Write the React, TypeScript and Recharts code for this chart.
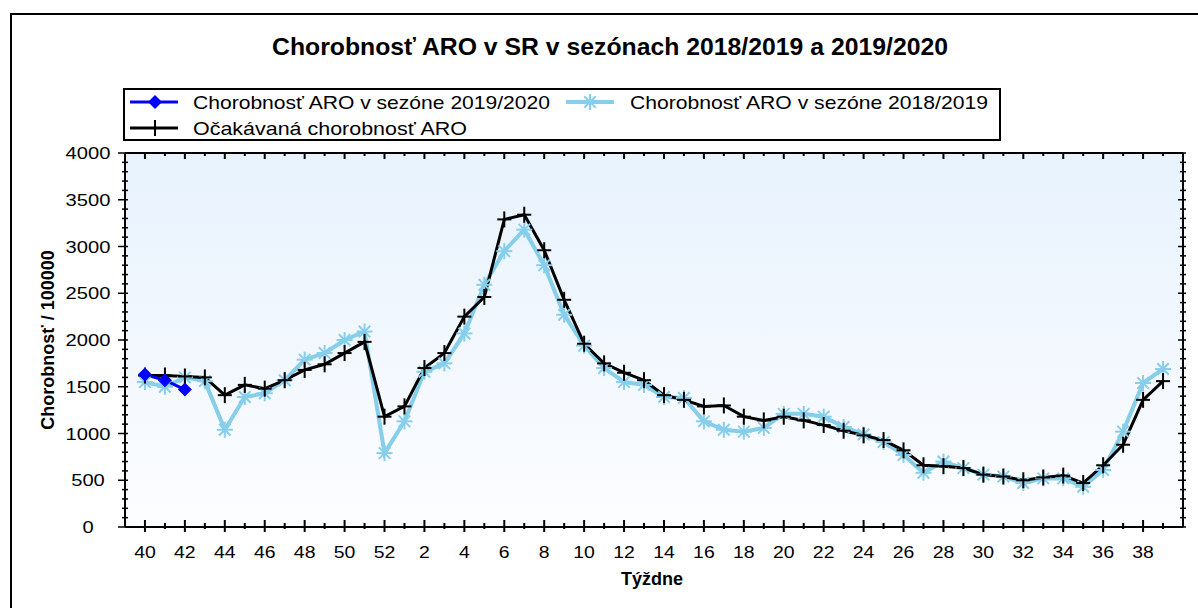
import React from 'react';
import { LineChart, Line, XAxis, YAxis, CartesianGrid } from 'recharts';

// weeks of the season, 40..52 then 1..39
const weeks = [
  40, 41, 42, 43, 44, 45, 46, 47, 48, 49, 50, 51, 52,
  1, 2, 3, 4, 5, 6, 7, 8, 9, 10, 11, 12, 13, 14, 15, 16, 17, 18, 19, 20,
  21, 22, 23, 24, 25, 26, 27, 28, 29, 30, 31, 32, 33, 34, 35, 36, 37, 38, 39,
];

const season1920 = [1630, 1570, 1470];

const season1819 = [
  1550, 1500, 1600, 1560, 1040, 1390, 1430, 1570, 1790, 1860, 2000, 2090, 790,
  1130, 1660, 1750, 2070, 2590, 2950, 3180, 2800, 2270, 1940, 1700, 1550, 1520, 1390,
  1380, 1130, 1040, 1020, 1060, 1210, 1210, 1180, 1070, 990, 910, 770, 580, 700,
  630, 560, 540, 470, 520, 520, 430, 610, 1020, 1540, 1690,
];

const expected = [
  1620, 1620, 1610, 1600, 1410, 1520, 1480, 1570, 1680, 1740, 1860, 1980, 1180,
  1290, 1700, 1860, 2250, 2460, 3290, 3340, 2960, 2430, 1960, 1750, 1650, 1570, 1410,
  1360, 1290, 1300, 1180, 1140, 1180, 1140, 1090, 1030, 980, 930, 820, 660, 650,
  630, 560, 540, 500, 530, 550, 470, 660, 880, 1360, 1560,
];

const yLabels = [0, 500, 1000, 1500, 2000, 2500, 3000, 3500, 4000];

const rows = weeks.map((w, i) => ({
  idx: i,
  week: w,
  s1819: season1819[i],
  exp: expected[i],
  s1920: i < season1920.length ? season1920[i] : null,
}));

const xTicks = weeks.map((_, i) => i);
const yTicks: number[] = [];
for (let v = 0; v <= 4000; v += 100) yTicks.push(v);

const FONT = '"Liberation Sans", Arial, sans-serif';
const SKY = '#87ceeb';

const Star = ({ cx, cy, r = 8, color = SKY }: any) => {
  const d = r * 0.72;
  return (
    <g stroke={color} strokeWidth={2}>
      <line x1={cx - r} y1={cy} x2={cx + r} y2={cy} />
      <line x1={cx} y1={cy - r} x2={cx} y2={cy + r} />
      <line x1={cx - d} y1={cy - d} x2={cx + d} y2={cy + d} />
      <line x1={cx - d} y1={cy + d} x2={cx + d} y2={cy - d} />
    </g>
  );
};

const Plus = ({ cx, cy }: any) => (
  <g stroke="#000" strokeWidth={2}>
    <line x1={cx - 7} y1={cy} x2={cx + 7} y2={cy} />
    <line x1={cx} y1={cy - 8} x2={cx} y2={cy + 8} />
  </g>
);

const Diamond = ({ cx, cy }: any) => (
  <path d={`M${cx},${cy - 7}L${cx + 7},${cy}L${cx},${cy + 7}L${cx - 7},${cy}Z`} fill="#0000ff" />
);

const dotWith = (Shape: any) => (p: any) => {
  if (p.cx == null || p.cy == null || p.value == null) return <g key={p.key ?? p.index} />;
  return <g key={p.key ?? p.index}><Shape cx={p.cx} cy={p.cy} /></g>;
};

const BottomTick = ({ x, y, payload }: any) => {
  const i = payload.value;
  const major = i % 2 === 0;
  const label = String(weeks[i]);
  return (
    <g>
      <line x1={x} x2={x} y1={y - (major ? 7 : 4)} y2={y + (major ? 5 : 2)} stroke="#000" strokeWidth={2} />
      {major && (
        <text x={x} y={y + 31} textAnchor="middle" fontSize={17} fontFamily={FONT} fill="#000"
          textLength={label.length * 10.8} lengthAdjust="spacingAndGlyphs">
          {label}
        </text>
      )}
    </g>
  );
};

const TopTick = ({ x, y, payload }: any) => {
  const major = payload.value % 2 === 0;
  return <line x1={x} x2={x} y1={y} y2={y + (major ? 6 : 3)} stroke="#000" strokeWidth={2} />;
};

const LeftTick = ({ x, y, payload }: any) => {
  const v = payload.value;
  const major = v % 500 === 0;
  const label = String(v);
  return (
    <g>
      <line x1={x - (major ? 7 : 3)} x2={x + 3} y1={y} y2={y} stroke="#000" strokeWidth={1.5} />
      {yLabels.includes(v) && (
        <text x={88} y={y + 6} textAnchor="middle" fontSize={17} fontFamily={FONT} fill="#000"
          textLength={label.length * 11.2} lengthAdjust="spacingAndGlyphs">
          {label}
        </text>
      )}
    </g>
  );
};

const RightTick = ({ x, y, payload }: any) => {
  const major = payload.value % 500 === 0;
  return <line x1={x - (major ? 5 : 3)} x2={x + 3} y1={y} y2={y} stroke="#000" strokeWidth={1.5} />;
};

const Overlay = () => (
  <svg width={1198} height={608} style={{ position: 'absolute', left: 0, top: 0, pointerEvents: 'none' }}>
    <defs>
      <linearGradient id="plotBg" x1="0" y1="0" x2="0" y2="1">
        <stop offset="0%" stopColor="#e7f2fd" />
        <stop offset="100%" stopColor="#fcfdff" />
      </linearGradient>
    </defs>
    <rect x={11} y={14} width={1200} height={610} fill="none" stroke="#000" strokeWidth={2} />
    <text x={272} y={55} fontSize={24} fontWeight="bold" fontFamily={FONT} fill="#000"
      textLength={676} lengthAdjust="spacingAndGlyphs">
      Chorobnosť ARO v SR v sezónach 2018/2019 a 2019/2020
    </text>

    <rect x={124} y={89} width={876} height={51} fill="#fff" stroke="#000" strokeWidth={2} />
    <line x1={130} x2={178} y1={102} y2={102} stroke="#0000ff" strokeWidth={3} />
    <Diamond cx={155} cy={102} />
    <text x={193} y={109} fontSize={19} fontFamily={FONT} fill="#000" textLength={357} lengthAdjust="spacingAndGlyphs">
      Chorobnosť ARO v sezóne 2019/2020
    </text>
    <line x1={566} x2={614} y1={102} y2={102} stroke={SKY} strokeWidth={4} />
    <Star cx={590} cy={102} />
    <text x={630} y={109} fontSize={19} fontFamily={FONT} fill="#000" textLength={358} lengthAdjust="spacingAndGlyphs">
      Chorobnosť ARO v sezóne 2018/2019
    </text>
    <line x1={130} x2={178} y1={128} y2={128} stroke="#000" strokeWidth={3} />
    <Plus cx={155} cy={128} />
    <text x={193} y={135} fontSize={19} fontFamily={FONT} fill="#000" textLength={274} lengthAdjust="spacingAndGlyphs">
      Očakávaná chorobnosť ARO
    </text>

    <text x={54} y={340} transform="rotate(-90 54 340)" textAnchor="middle" fontSize={18} fontWeight="bold"
      fontFamily={FONT} fill="#000">
      Chorobnosť / 100000
    </text>
    <text x={652} y={585} textAnchor="middle" fontSize={18} fontWeight="bold" fontFamily={FONT} fill="#000">
      Týždne
    </text>
  </svg>
);

export default function App() {
  return (
    <div style={{ position: 'absolute', left: 0, top: 0, width: 1198, height: 608, background: '#fff', overflow: 'hidden' }}>
      <Overlay />
      <div style={{ position: 'absolute', left: 0, top: 0 }}>
        <LineChart width={1198} height={608} data={rows} margin={{ top: 152, right: 14, bottom: 80, left: 124 }}>
          <CartesianGrid xAxisId="b" yAxisId="l" horizontal={false} vertical={false} fill="url(#plotBg)" fillOpacity={1} stroke="none" />
          <XAxis xAxisId="b" dataKey="idx" type="number" domain={[-1, 52]} ticks={xTicks} interval={0}
            allowDataOverflow height={1} tickSize={0} tickMargin={0} tickLine={false}
            axisLine={{ stroke: '#000', strokeWidth: 2 }} tick={<BottomTick />} />
          <XAxis xAxisId="t" dataKey="idx" orientation="top" type="number" domain={[-1, 52]} ticks={xTicks} interval={0}
            allowDataOverflow height={1} tickSize={0} tickMargin={0} tickLine={false}
            axisLine={{ stroke: '#000', strokeWidth: 2 }} tick={<TopTick />} />
          <YAxis yAxisId="l" type="number" domain={[0, 4000]} ticks={yTicks} interval={0} allowDataOverflow
            width={1} tickSize={0} tickMargin={0} tickLine={false}
            axisLine={{ stroke: '#000', strokeWidth: 2 }} tick={<LeftTick />} />
          <YAxis yAxisId="r" orientation="right" type="number" domain={[0, 4000]} ticks={yTicks} interval={0} allowDataOverflow
            width={1} tickSize={0} tickMargin={0} tickLine={false}
            axisLine={{ stroke: '#000', strokeWidth: 2 }} tick={<RightTick />} />
          <Line xAxisId="b" yAxisId="l" dataKey="s1819" stroke={SKY} strokeWidth={4} dot={dotWith(Star)}
            activeDot={false} isAnimationActive={false} />
          <Line xAxisId="b" yAxisId="l" dataKey="exp" stroke="#000" strokeWidth={3} dot={dotWith(Plus)}
            activeDot={false} isAnimationActive={false} />
          <Line xAxisId="b" yAxisId="l" dataKey="s1920" stroke="#0000ff" strokeWidth={3} dot={dotWith(Diamond)}
            activeDot={false} isAnimationActive={false} />
        </LineChart>
      </div>
    </div>
  );
}
